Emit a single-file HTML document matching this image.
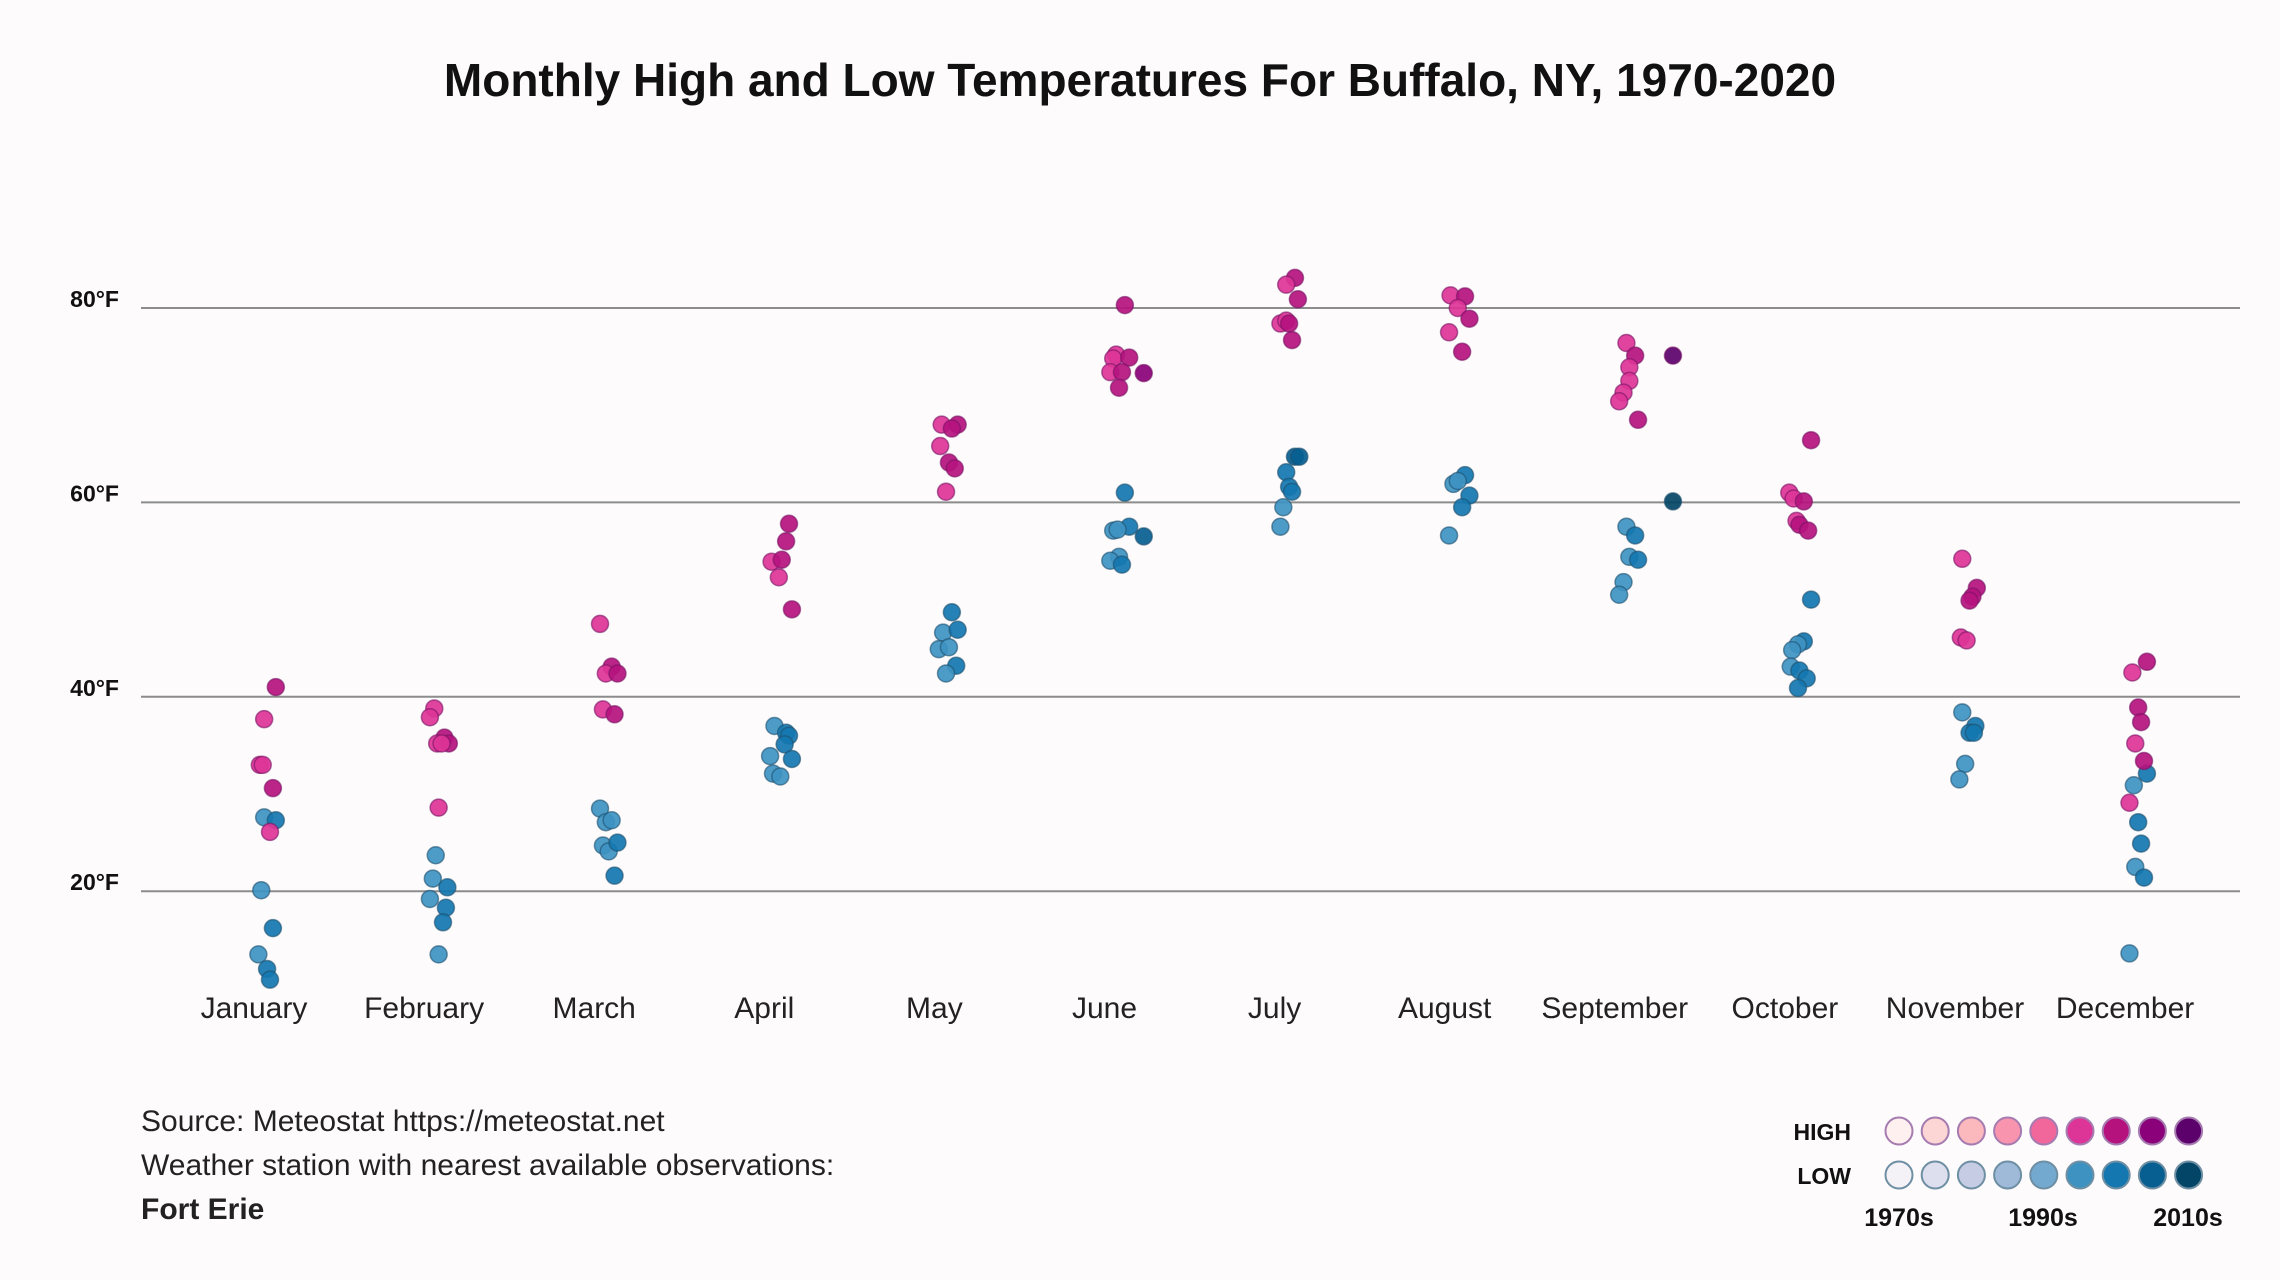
<!DOCTYPE html>
<html><head><meta charset="utf-8">
<style>
html,body{margin:0;padding:0;background:#fdfbfc;}
svg{display:block;font-family:"Liberation Sans",sans-serif;}
</style></head>
<body>
<svg id="chart" width="2280" height="1280" viewBox="0 0 2280 1280">
<rect width="2280" height="1280" fill="#fdfbfc"/>
<text x="1140" y="96" text-anchor="middle" font-size="46" font-weight="bold" fill="#111">Monthly High and Low Temperatures For Buffalo, NY, 1970-2020</text>
<g id="grid"></g>
<g id="ylabels"></g>
<g id="xlabels"></g>
<g id="points"></g>
<g font-size="30" fill="#222">
<text x="141" y="1131">Source: Meteostat https://meteostat.net</text>
<text x="141" y="1175">Weather station with nearest available observations:</text>
<text x="141" y="1219" font-weight="bold">Fort Erie</text>
</g>
<g id="legend">
<text x="1851" y="1140" text-anchor="end" font-size="23" font-weight="bold" fill="#111">HIGH</text>
<text x="1851" y="1184" text-anchor="end" font-size="23" font-weight="bold" fill="#111">LOW</text>
<text x="1899" y="1226" text-anchor="middle" font-size="25" font-weight="bold" fill="#111">1970s</text>
<text x="2043" y="1226" text-anchor="middle" font-size="25" font-weight="bold" fill="#111">1990s</text>
<text x="2188" y="1226" text-anchor="middle" font-size="25" font-weight="bold" fill="#111">2010s</text>
</g>
</svg>
<script>
const months=["January","February","March","April","May","June","July","August","September","October","November","December"];
const yTicks=[20,40,60,80];
const yTickLabels=["20°F","40°F","60°F","80°F"];
const highColors=["#fff0f0","#fcd5d5","#fbb8bd","#f994ae","#f1669b","#dd3497","#b5127e","#8a017a","#5c006b"];
const lowColors=["#f4f1f7","#dddfee","#c5cce3","#9fbad9","#74a9cf","#3e92c2","#1477b0","#065e91","#034566"];
const hiMonth=[0,0,0,0,0,0, 1,1,1,1,1,1,1, 2,2,2,2,2,2, 3,3,3,3,3,3, 4,4,4,4,4,4,4, 5,5,5,5,5,5,5,5, 6,6,6,6,6,6,6, 7,7,7,7,7,7, 8,8,8,8,8,8,8,8, 9,9,9,9,9,9,9, 10,10,10,10,10,10, 11,11,11,11,11,11,11];
const hiVal=[41.0,37.7,33.0,33.0,30.6,26.1, 38.8,37.9,35.8,35.2,35.2,35.2,28.6, 47.5,43.1,42.4,42.4,38.7,38.2, 57.8,56.0,53.9,54.1,52.3,49.0, 68.0,68.0,67.6,65.8,64.1,63.5,61.1, 80.3,75.2,74.8,74.9,73.4,73.4,73.3,71.8, 83.1,82.4,80.9,78.4,78.7,78.4,76.7, 81.3,81.2,80.0,78.9,77.5,75.5, 76.4,75.1,75.1,73.9,72.5,71.3,70.4,68.5, 66.4,61.0,60.4,60.1,58.1,57.7,57.1, 54.2,51.2,50.3,49.9,46.1,45.8, 43.6,42.5,38.9,37.4,35.2,33.4,29.1];
const hiDec=[6,5,5,5,6,5, 5,5,6,5,6,5,5, 5,6,5,6,5,6, 6,6,5,6,5,6, 5,6,6,5,6,6,5, 6,5,5,6,5,6,7,6, 6,5,6,5,5,6,6, 5,6,5,6,5,6, 5,6,8,5,5,5,5,6, 6,5,5,6,5,6,6, 5,6,6,6,5,5, 6,5,6,6,5,6,5];
const hiJit=[15,7,4,6,13,11, 7,4,14,9,17,12,10, 4,12,8,16,6,14, 17,15,5,12,10,19, 5,16,12,4,10,14,8, 14,8,6,17,4,12,27,10, 14,8,16,4,8,10,12, 4,14,9,17,3,12, 8,14,40,10,10,6,3,16, 18,3,6,13,8,10,16, 5,15,12,10,4,8, 15,5,9,11,7,13,3];
const loMonth=[0,0,0,0,0,0,0, 1,1,1,1,1,1,1, 2,2,2,2,2,2,2, 3,3,3,3,3,3,3,3, 4,4,4,4,4,4,4, 5,5,5,5,5,5,5,5, 6,6,6,6,6,6,6, 7,7,7,7,7,7, 8,8,8,8,8,8,8, 9,9,9,9,9,9,9,9, 10,10,10,10,10,10, 11,11,11,11,11,11,11];
const loVal=[27.6,27.3,20.1,16.2,13.5,12.0,10.9, 23.7,21.3,20.4,19.2,18.3,16.8,13.5, 28.5,27.1,27.3,24.7,24.1,25.0,21.6, 37.0,36.3,36.0,35.1,33.6,33.9,32.1,31.8, 48.7,46.6,46.9,44.9,45.1,43.2,42.4, 61.0,57.5,57.1,57.2,56.5,54.4,54.0,53.6, 64.7,64.7,63.1,61.6,61.1,59.5,57.5, 62.8,61.9,62.2,60.7,59.5,56.6, 60.1,57.5,56.6,54.4,54.1,51.8,50.5, 50.0,45.7,45.4,44.8,43.1,42.7,41.9,40.9, 38.4,37.0,36.3,36.3,33.1,31.5, 32.1,30.9,27.1,24.9,22.5,21.4,13.6];
const loDec=[5,6,5,6,5,6,6, 5,5,6,5,6,6,5, 5,5,5,5,5,6,6, 5,6,6,6,6,5,5,5, 6,5,6,5,5,6,5, 6,6,5,5,7,5,5,6, 7,7,6,6,6,5,5, 6,5,5,6,6,5, 8,5,6,5,6,5,5, 6,6,5,5,5,6,6,6, 5,6,6,6,5,5, 6,5,6,6,5,6,5];
const loJit=[7,15,5,13,3,9,11, 8,6,16,4,15,13,10, 4,8,12,6,10,16,14, 7,15,17,14,19,4,6,11, 12,6,16,3,10,15,8, 14,17,6,9,27,10,4,12, 14,17,8,10,12,6,4, 14,6,9,17,12,3, 40,8,14,10,16,6,3, 18,13,9,5,4,10,15,9, 5,14,10,13,7,3, 15,6,9,11,7,13,3];

const NS="http://www.w3.org/2000/svg";
const x0=141,x1=2240;
function xScale(m){return 254+m*170.1;}
function yScale(v){return 308+(80-v)*9.72;}
const JS=1.454;
function mk(tag,attrs,parent){const e=document.createElementNS(NS,tag);for(const k in attrs)e.setAttribute(k,attrs[k]);parent.appendChild(e);return e;}
const grid=document.getElementById('grid'),yl=document.getElementById('ylabels'),xl=document.getElementById('xlabels'),pts=document.getElementById('points');
yTicks.forEach((t,i)=>{
 const l=mk('line',{x1:x0,x2:x1,y1:yScale(t),y2:yScale(t),stroke:'#8c8c8c','stroke-width':2},grid);
 
 
 const tx=mk('text',{x:119,y:yScale(t)-1,'text-anchor':'end','font-size':23,'font-weight':'bold',fill:'#111'},yl);
 tx.textContent=yTickLabels[i];
 
 
});
months.forEach((m,i)=>{
 const tx=mk('text',{x:xScale(i),y:1018,'text-anchor':'middle','font-size':30,fill:'#222'},xl);
 tx.textContent=m;
 
 
});
function drawPoint(m,v,d,j,cols,stroke,kind){
 const c=mk('circle',{cx:xScale(m)+j*JS,cy:yScale(v),r:8.5,fill:cols[d],stroke:stroke,'stroke-width':1.5,'fill-opacity':0.92},pts);
 
 
}
loVal.forEach((v,i)=>drawPoint(loMonth[i],v,loDec[i],loJit[i],lowColors,'rgba(30,80,110,0.6)','low'));
hiVal.forEach((v,i)=>drawPoint(hiMonth[i],v,hiDec[i],hiJit[i],highColors,'rgba(120,20,100,0.6)','high'));
const lg=document.getElementById('legend');
for(let i=0;i<9;i++){
 const a=mk('circle',{cx:1899+i*36.2,cy:1131,r:13.5,fill:highColors[i],stroke:'#a57bb0','stroke-width':2},lg);
 
 
 const b=mk('circle',{cx:1899+i*36.2,cy:1175,r:13.5,fill:lowColors[i],stroke:'#6e8fa3','stroke-width':2},lg);
 
 
}
</script>
</body></html>
